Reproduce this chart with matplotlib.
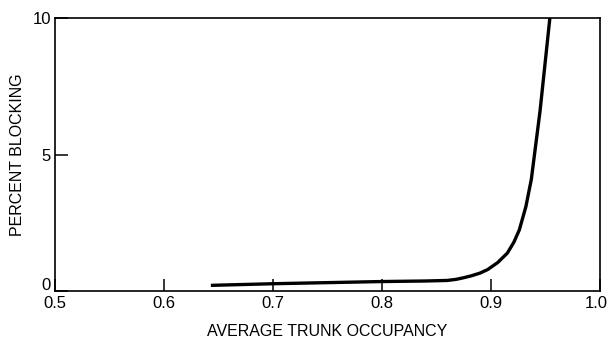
import matplotlib
matplotlib.use("Agg")
import matplotlib.pyplot as plt
from matplotlib.transforms import ScaledTranslation

# curve
occupancy = [0.643, 0.70, 0.75, 0.80, 0.84, 0.86, 0.868, 0.875, 0.882, 0.89, 0.897,
             0.906, 0.915, 0.921, 0.926, 0.932, 0.937, 0.945, 0.954]
blocking = [0.22, 0.28, 0.32, 0.36, 0.38, 0.40, 0.44, 0.50, 0.57, 0.67, 0.80,
            1.05, 1.40, 1.80, 2.25, 3.10, 4.10, 6.60, 10.0]

xticks = [0.5, 0.6, 0.7, 0.8, 0.9, 1.0]
xticklabels = ["0.5", "0.6", "0.7", "0.8", "0.9", "1.0"]
yticks = [0, 5, 10]

plt.rcParams["font.family"] = ["Liberation Sans", "DejaVu Sans"]

fig = plt.figure(figsize=(6.11, 3.4), dpi=100)
ax = fig.add_axes([0.090, 0.143, 0.892, 0.804])

ax.plot(occupancy, blocking, color="black", lw=2.4, solid_capstyle="butt",
        solid_joinstyle="round")

ax.set_xlim(0.5, 1.0)
ax.set_ylim(0, 10)
ax.set_xticks(xticks)
ax.set_xticklabels(xticklabels)
ax.set_yticks(yticks)
ax.tick_params(direction="in", length=9, width=1.1, labelsize=12, pad=3)
for s in ax.spines.values():
    s.set_linewidth(1.2)

# small nudges: "0" sits above the corner, "1.0" hugs the right edge
fig.canvas.draw()
lab0 = ax.get_yticklabels()[0]
lab0.set_transform(lab0.get_transform() + ScaledTranslation(0, 5 / 72, fig.dpi_scale_trans))
lab1 = ax.get_xticklabels()[-1]
lab1.set_transform(lab1.get_transform() + ScaledTranslation(-3 / 72, 0, fig.dpi_scale_trans))

ax.set_xlabel("AVERAGE TRUNK OCCUPANCY", fontsize=11.5, labelpad=10)
ax.set_ylabel("PERCENT BLOCKING", fontsize=11.5, labelpad=5)

fig.savefig("out.png", dpi=100)
